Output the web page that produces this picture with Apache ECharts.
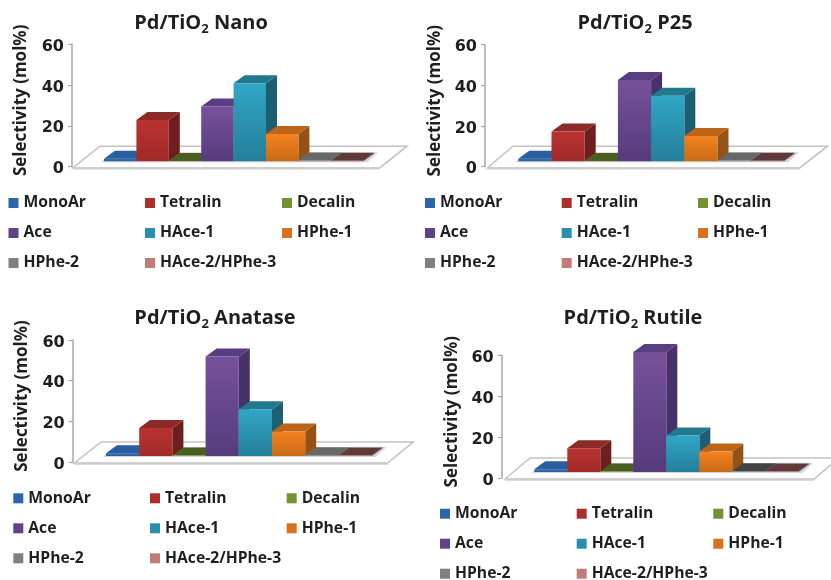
<!DOCTYPE html>
<html>
<head>
<meta charset="utf-8">
<style>html,body{margin:0;padding:0;background:#fff}#chart{width:831px;height:580px}</style>
<script src="https://cdn.jsdelivr.net/npm/echarts@6/dist/echarts.min.js"></script>
</head>
<body>
<div id="chart"></div>
<script>
// Product selectivity over four Pd/TiO2 catalysts, mol%
const products = ['MonoAr', 'Tetralin', 'Decalin', 'Ace', 'HAce-1', 'HPhe-1', 'HPhe-2', 'HAce-2/HPhe-3'];
const nanoValues = [1.3, 20.2, 0.2, 26.8, 38.2, 13.4, 0.4, 0.3];
const p25Values = [1.3, 14.6, 0.2, 40, 32.2, 12.5, 0.4, 0.3];
const anataseValues = [1.3, 13.8, 0.2, 48.9, 23, 12, 0.4, 0.3];
const rutileValues = [1.3, 11.6, 0.2, 58.7, 17.8, 10, 0.4, 0.3];
const axisName = 'Selectivity (mol%)';

// Face shades for each product: front gradient top/bottom, cap, side, key
const shades = [
  { hi: '#2f6fb8', lo: '#28609f', cap: '#2a5f9f', side: '#1f4878', key: '#2c66a8' },
  { hi: '#b9322f', lo: '#a02b29', cap: '#8c2a27', side: '#6c1f1e', key: '#ad2f2c' },
  { hi: '#7fa83a', lo: '#6d9030', cap: '#4a5f20', side: '#3c4e1a', key: '#6f9430' },
  { hi: '#76519b', lo: '#563c7c', cap: '#5a3d80', side: '#46316a', key: '#5f4388' },
  { hi: '#30a6c5', lo: '#247f9a', cap: '#22798f', side: '#1c5f72', key: '#2a8fac' },
  { hi: '#f5831f', lo: '#c86a18', cap: '#bc6418', side: '#945216', key: '#d9701b' },
  { hi: '#8a8a8a', lo: '#777777', cap: '#686868', side: '#555555', key: '#808080' },
  { hi: '#c97f7d', lo: '#b56a68', cap: '#5f3a3a', side: '#4a2c2c', key: '#c27a7a' }
];

// Page layout of each panel
const panels = [
  { name: 'Nano', values: nanoValues, axisX: 72, barX: 104, barW: 32.4, top: 44, bottom: 166.7, lift: 5.4,
    titleX: 201, titleY: 23, nameX: 21, keyX: [8.5, 145, 282], keyY: [202, 232, 262],
    floor: { fl: 1, fr: 308, bl: 28, br: 335, back: -20.5, front: 1 } },
  { name: 'P25', values: p25Values, axisX: 485, barX: 518.3, barW: 33.2, top: 44.7, bottom: 166.7, lift: 5.4,
    titleX: 635, titleY: 23, nameX: 435, keyX: [425, 561.7, 698], keyY: [202, 232, 262],
    floor: { fl: 2.5, fr: 315, bl: 28, br: 342.5, back: -20.5, front: 1 } },
  { name: 'Anatase', values: anataseValues, axisX: 72.7, barX: 106, barW: 33.2, top: 340, bottom: 462, lift: 6,
    titleX: 215, titleY: 318, nameX: 22, keyX: [13.3, 150, 286.7], keyY: [497.3, 527.3, 557.3],
    floor: { fl: 1.5, fr: 315, bl: 28.5, br: 340.5, back: -20, front: 1 } },
  { name: 'Rutile', values: rutileValues, axisX: 501.7, barX: 534.3, barW: 33, top: 355.3, bottom: 478, lift: 6,
    titleX: 633, titleY: 318, nameX: 452, keyX: [440, 576.7, 713.3], keyY: [512.7, 542.7, 572.7],
    floor: { fl: 3.3, fr: 312.3, bl: 28.3, br: 337.3, back: -20, front: 1 },
    capTint: { 'HPhe-2': '#444444' } }
];

const DEPTH_X = 11;
const DEPTH_Y = 8;
const UI_FONT = '"Open Sans", sans-serif';
const INK = '#1f1f1f';

function frontFill(s) {
  return new echarts.graphic.LinearGradient(0, 0, 0, 1, [
    { offset: 0, color: s.hi }, { offset: 1, color: s.lo }
  ]);
}

// Extruded column: side and cap sit behind the front face, shifted along the depth axis
function renderColumn(shade, lift) {
  return function (params, api) {
    const band = api.size([1, 0])[0];
    const cat = api.value(0);
    const centre = api.coord([cat, 0])[0];
    const x0 = centre - band / 2;
    const x1 = centre + band / 2;
    const base = api.coord([cat, 0])[1] - lift;
    const top = api.coord([cat, api.value(1)])[1] - lift;
    return {
      type: 'group',
      children: [
        { type: 'polygon', shape: { points: [[x1, top], [x1 + DEPTH_X, top - DEPTH_Y], [x1 + DEPTH_X, base - DEPTH_Y], [x1, base]] },
          style: { fill: shade.side } },
        { type: 'polygon', shape: { points: [[x0, top], [x0 + DEPTH_X, top - DEPTH_Y], [x1 + DEPTH_X, top - DEPTH_Y], [x1, top]] },
          style: { fill: shade.cap } },
        { type: 'rect', shape: { x: x0, y: top, width: x1 - x0, height: base - top },
          style: { fill: frontFill(shade) } }
      ]
    };
  };
}

// Floor slab under the columns, anchored to the axis zero line
function renderFloor(panel) {
  return function (params, api) {
    const origin = api.coord([0, 0]);
    const band = api.size([1, 0])[0];
    const left = origin[0] - band / 2;
    const y0 = origin[1];
    const ax = panel.axisX;
    const f = panel.floor;
    const baseY = y0 - panel.lift;
    const right = left + band * products.length;
    return {
      type: 'group',
      children: [
        { type: 'polygon', shape: { points: [[ax + f.fl, y0 + f.front], [ax + f.bl, y0 + f.back], [ax + f.br, y0 + f.back], [ax + f.fr, y0 + f.front]] },
          style: { fill: '#ffffff', stroke: '#c2c2c2', lineWidth: 1.5 } },
        { type: 'line', shape: { x1: ax + f.fl, y1: y0 + f.front + 0.5, x2: ax + f.fr, y2: y0 + f.front + 0.5 },
          style: { stroke: '#cdcdcd', lineWidth: 2.5 } },
        { type: 'polygon', shape: { points: [[left - 3, baseY + 1], [left + DEPTH_X - 3, baseY - DEPTH_Y - 1], [right + DEPTH_X + 4, baseY - DEPTH_Y - 1], [right + 4, baseY + 1]] },
          style: { fill: 'rgba(0,0,0,0.14)', shadowBlur: 5, shadowColor: 'rgba(0,0,0,0.3)' } }
      ]
    };
  };
}

const grid = [], xAxis = [], yAxis = [], title = [], legend = [], series = [];

panels.forEach((p, i) => {
  grid.push({ left: p.barX, width: p.barW * products.length, top: p.top, height: p.bottom - p.top });
  xAxis.push({ type: 'category', gridIndex: i, data: products, show: false });
  yAxis.push({
    type: 'value', gridIndex: i, min: 0, max: 60, interval: 20,
    offset: p.barX - p.axisX,
    name: axisName, nameLocation: 'middle', nameGap: p.axisX - p.nameX - 9,
    nameTextStyle: { color: INK, fontFamily: UI_FONT, fontWeight: 'bold', fontSize: 17, padding: [0, 0, 0, 10] },
    axisLine: { show: true, lineStyle: { color: '#a8a8a8', width: 1.5 } },
    axisTick: { show: true, length: 4, lineStyle: { color: '#a8a8a8', width: 1.2 } },
    axisLabel: {
      margin: 8,
      formatter: '{v|{value}}',
      rich: { v: { color: INK, fontFamily: '"DejaVu Sans", sans-serif', fontWeight: 'bold', fontSize: 16, padding: [5, 0, 0, 0] } }
    },
    splitLine: { show: false }
  });
  title.push({
    text: '{a|Pd/TiO}{s|2}{a| ' + p.name + '}',
    left: p.titleX, top: p.titleY - 13, textAlign: 'center', padding: 0,
    textStyle: {
      rich: {
        a: { fontFamily: UI_FONT, fontWeight: 'bold', fontSize: 20, color: INK, lineHeight: 26 },
        s: { fontFamily: UI_FONT, fontWeight: 'bold', fontSize: 13, color: INK, lineHeight: 26, verticalAlign: 'bottom' }
      }
    }
  });

  series.push({
    type: 'custom', name: 'floor', silent: true, xAxisIndex: i, yAxisIndex: i,
    data: [[0, 0]], renderItem: renderFloor(p), z: 1
  });
  products.forEach((name, k) => {
    const tint = p.capTint && p.capTint[name];
    const shade = tint ? Object.assign({}, shades[k], { cap: tint }) : shades[k];
    series.push({
      type: 'custom', name, xAxisIndex: i, yAxisIndex: i, silent: true, z: 2,
      itemStyle: { color: shades[k].key },
      data: [[k, p.values[k]]],
      encode: { x: 0, y: 1 },
      renderItem: renderColumn(shade, p.lift)
    });
    legend.push({
      data: [name], selectedMode: false, padding: 0, orient: 'horizontal',
      left: p.keyX[k % 3], top: p.keyY[Math.floor(k / 3)] - 10 + 1,
      itemWidth: 10, itemHeight: 10, itemGap: 0, icon: 'rect',
      textStyle: { color: INK, fontFamily: UI_FONT, fontWeight: 'bold', fontSize: 15.7, lineHeight: 20 }
    });
  });
});

const chart = echarts.init(document.getElementById('chart'), null, { renderer: 'canvas' });
chart.setOption({ animation: false, backgroundColor: '#ffffff', grid, xAxis, yAxis, title, legend, series, tooltip: { show: false } });
</script>
</body>
</html>
